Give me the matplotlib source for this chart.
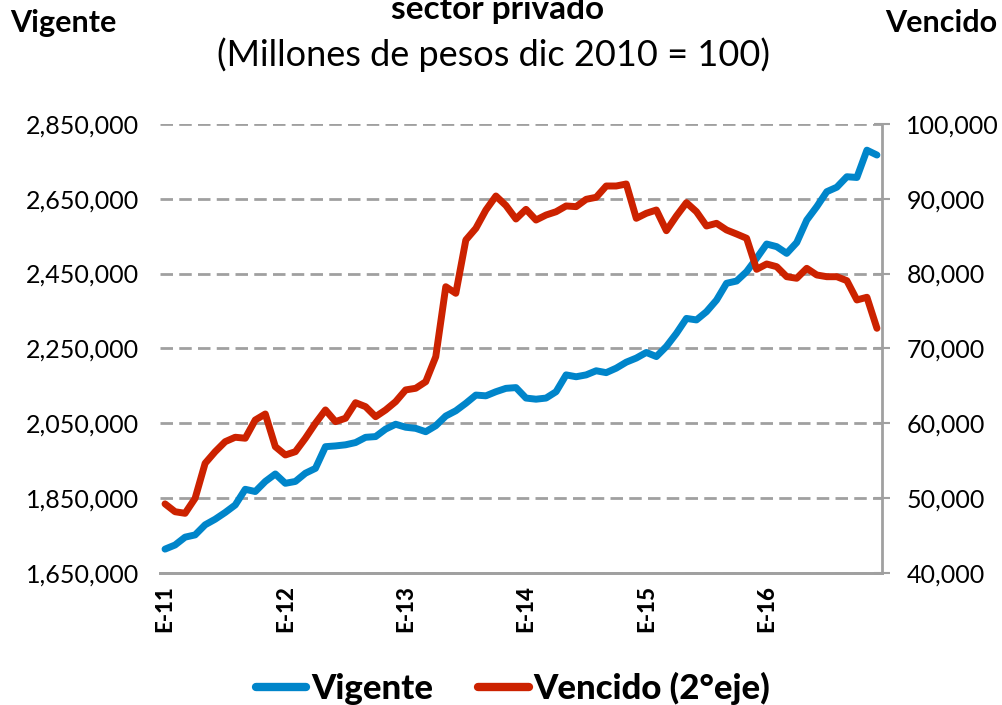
import numpy as np
import matplotlib
matplotlib.use("Agg")
import matplotlib.pyplot as plt
from matplotlib.ticker import FuncFormatter

plt.rcParams['font.family'] = ['Lato', 'DejaVu Sans']
plt.rcParams['lines.scale_dashes'] = False

# saldo vigente (left axis) y vencido (right axis), mensual ene-2011 a dic-2016
vigente = [1713000, 1724000, 1745000, 1751000, 1778000, 1793000, 1811000, 1831000, 1873000, 1867000, 1894000, 1914000,
           1889000, 1894000, 1916000, 1929000, 1987000, 1989000, 1992000, 1998000, 2012000, 2014000, 2034000, 2047000,
           2039000, 2036000, 2027000, 2043000, 2069000, 2083000, 2103000, 2125000, 2123000, 2134000, 2143000, 2145000,
           2117000, 2114000, 2117000, 2134000, 2179000, 2174000, 2179000, 2190000, 2185000, 2197000, 2213000, 2224000,
           2239000, 2228000, 2255000, 2290000, 2330000, 2326000, 2348000, 2379000, 2424000, 2430000, 2455000, 2491000,
           2529000, 2522000, 2504000, 2533000, 2593000, 2629000, 2669000, 2681000, 2709000, 2707000, 2780000, 2767000]
vencido = [49200, 48150, 47940, 49950, 54630, 56180, 57520, 58110, 57980, 60420, 61220, 56850,
           55740, 56180, 57980, 59980, 61760, 60200, 60650, 62730, 62200, 60860, 61760, 62870,
           64440, 64660, 65540, 68880, 78240, 77360, 84490, 86050, 88500, 90370, 89100, 87300,
           88590, 87160, 87830, 88270, 89040, 88950, 89930, 90200, 91710, 91710, 91980, 87390,
           88060, 88500, 85730, 87700, 89480, 88270, 86360, 86720, 85830, 85290, 84720, 80570,
           81280, 80920, 79580, 79370, 80700, 79810, 79580, 79580, 79050, 76470, 76830, 72680]
tick_pos = [0, 12, 24, 36, 48, 60]
tick_labels = ['E-11', 'E-12', 'E-13', 'E-14', 'E-15', 'E-16']

x = np.arange(len(vigente))
blue = '#0085CA'
red = '#CC2200'
gray = '#A0A0A0'

fig = plt.figure(figsize=(10.02, 7.05), dpi=100)
ax = fig.add_axes([0.1597, 0.1877, 0.7205, 0.6364])
ax2 = ax.twinx()

l1, = ax.plot(x, vigente, color=blue, lw=5, solid_joinstyle='round', solid_capstyle='round', label='Vigente', zorder=3)
l2, = ax2.plot(x, vencido, color=red, lw=5, solid_joinstyle='round', solid_capstyle='round', label='Vencido (2°eje)', zorder=3)

ax.set_xlim(-0.5, len(x) - 0.5)
ax.set_ylim(1650000, 2850000)
ax.set_yticks(np.arange(1650000, 2850001, 200000))
ax2.set_ylim(40000, 100000)
ax2.set_yticks(np.arange(40000, 100001, 10000))

fmt = FuncFormatter(lambda v, p: f'{int(v):,}')
ax.yaxis.set_major_formatter(fmt)
ax2.yaxis.set_major_formatter(fmt)

ax.grid(axis='y', color=gray, lw=2, linestyle=(0, (9, 4.5)))
ax.set_axisbelow(True)

for a in (ax, ax2):
    for s in ('top', 'left', 'right'):
        a.spines[s].set_visible(False)
    a.spines['bottom'].set_color(gray)
    a.spines['bottom'].set_linewidth(2)
ax2.spines['right'].set_visible(True)
ax2.spines['right'].set_color(gray)
ax2.spines['right'].set_linewidth(2)

ax.tick_params(axis='y', length=0, pad=15, labelsize=18, labelcolor='black')
ax2.tick_params(axis='y', direction='inout', length=11, width=1.5, color=gray, pad=12, labelsize=18)

ax.set_xticks(tick_pos)
ax.set_xticklabels(tick_labels, rotation=90, fontweight='black', fontsize=16)
ax.tick_params(axis='x', length=0, pad=9)

fig.text(0.497, 1 - 19 / 705, 'sector privado', ha='center', va='baseline', fontsize=24, fontweight='bold')
fig.text(0.493, 1 - 66 / 705, '(Millones de pesos dic 2010 = 100)', ha='center', va='baseline', fontsize=26)
fig.text(10 / 1002, 1 - 32 / 705, 'Vigente', ha='left', va='baseline', fontsize=22, fontweight='bold')
fig.text(885 / 1002, 1 - 32 / 705, 'Vencido', ha='left', va='baseline', fontsize=22, fontweight='bold')

leg = fig.legend(handles=[l1, l2], loc='lower center', bbox_to_anchor=(0.512, -0.045), ncol=2, frameon=False,
                 handlelength=1.45, handletextpad=0.15, columnspacing=1.3,
                 prop={'weight': 'black', 'size': 25})
for h in leg.get_lines():
    h.set_linewidth(6)

fig.savefig('out.png', dpi=100)
